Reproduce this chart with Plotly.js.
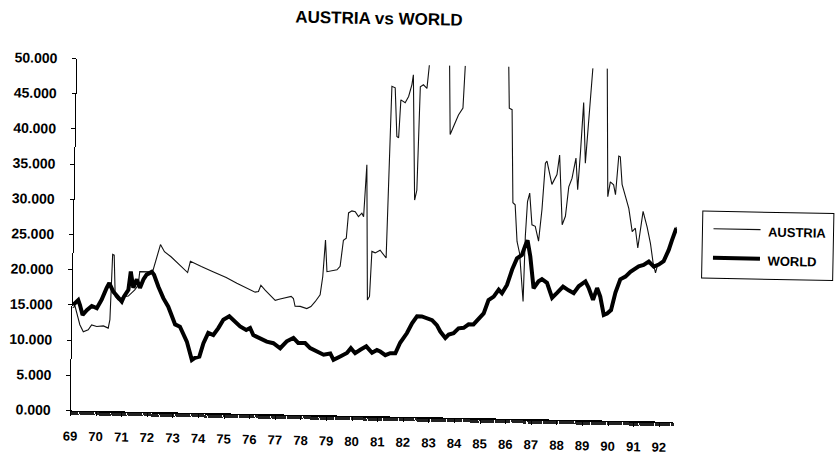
<!DOCTYPE html>
<html>
<head>
<meta charset="utf-8">
<script src="https://cdn.plot.ly/plotly-3.0.1.min.js"></script>
<style>
  html, body { margin: 0; padding: 0; background: #ffffff; overflow: hidden; }
  #chart { width: 836px; height: 461px; transform: rotate(1.08deg); transform-origin: 418px 230.5px; }
</style>
</head>
<body>
<div id="chart"></div>
<script>
// ---- data ----
const worldYears = [1969.02,1969.22,1969.29,1969.40,1969.56,1969.75,1969.95,1970.13,1970.32,1970.42,1970.58,1970.78,1970.92,1971.00,1971.17,1971.25,1971.36,1971.49,1971.62,1971.75,1971.87,1972.07,1972.16,1972.34,1972.54,1972.74,1972.88,1973.02,1973.21,1973.35,1973.49,1973.70,1973.82,1973.99,1974.14,1974.32,1974.52,1974.71,1974.90,1975.13,1975.36,1975.56,1975.80,1975.95,1976.08,1976.35,1976.61,1976.87,1977.14,1977.39,1977.65,1977.84,1978.11,1978.31,1978.57,1978.84,1979.10,1979.23,1979.49,1979.75,1979.90,1980.07,1980.27,1980.50,1980.73,1980.92,1981.05,1981.25,1981.44,1981.64,1981.82,1982.08,1982.27,1982.46,1982.65,1982.85,1983.05,1983.24,1983.38,1983.58,1983.71,1983.90,1984.09,1984.29,1984.48,1984.67,1984.87,1985.06,1985.24,1985.44,1985.63,1985.76,1985.95,1986.14,1986.32,1986.51,1986.64,1986.72,1986.84,1986.99,1987.18,1987.31,1987.51,1987.72,1987.91,1988.14,1988.36,1988.56,1988.75,1989.01,1989.14,1989.32,1989.47,1989.60,1989.75,1989.88,1990.03,1990.19,1990.37,1990.57,1990.76,1990.89,1991.08,1991.27,1991.47,1991.67,1991.86,1992.05,1992.24,1992.36,1992.52];
const worldValues = [15.0,15.7,15.0,13.6,14.3,14.9,14.6,15.8,17.5,18.2,17.0,16.1,15.6,16.3,17.3,19.9,17.6,18.8,17.6,18.8,19.5,19.9,19.5,17.8,16.2,15.0,13.9,12.5,12.2,11.0,10.1,7.5,7.8,8.0,9.9,11.4,11.1,12.1,13.3,13.8,13.0,12.4,11.9,12.2,11.2,10.8,10.3,10.1,9.4,10.4,10.9,10.2,10.2,9.5,9.0,8.6,8.8,7.9,8.4,8.9,9.6,8.9,9.4,9.9,9.0,9.4,9.2,8.7,9.0,9.0,10.5,11.9,13.3,14.3,14.3,14.0,13.8,13.1,12.2,11.3,11.8,12.0,12.7,12.8,13.3,13.3,14.2,14.9,16.8,17.3,18.3,17.8,19.0,21.2,22.8,23.3,24.7,25.4,23.1,18.6,19.6,19.9,19.4,17.3,18.0,18.9,18.4,18.0,19.0,19.7,18.8,17.1,18.8,17.6,15.0,15.2,15.7,18.2,20.1,20.5,21.2,21.5,22.0,22.2,22.7,22.0,22.3,22.8,24.4,25.8,27.5];

// null = the series runs above the top of the scale
const austriaYears = [1969.00,1969.10,1969.30,1969.44,1969.63,1969.76,1969.96,1970.22,1970.41,1970.47,1970.53,1970.59,1970.66,1970.78,1970.98,1971.17,1971.42,1971.55,1971.60,1972.10,1972.39,1972.55,1972.81,1973.08,1973.47,1973.57,1973.86,1974.00,1974.46,1974.98,1975.40,1975.79,1976.12,1976.25,1976.34,1976.51,1976.71,1976.91,1977.10,1977.36,1977.53,1977.62,1977.69,1977.89,1978.15,1978.31,1978.47,1978.66,1978.75,1978.83,1978.91,1979.30,1979.42,1979.53,1979.64,1979.71,1979.84,1979.97,1980.10,1980.23,1980.30,1980.39,1980.51,1980.59,1980.65,1980.78,1980.97,1981.21,1981.31,1981.44,1981.54,1981.61,1981.67,1981.84,1981.97,1982.09,1982.14,1982.28,1982.36,1982.42,1982.54,1982.68,1982.76,1982.78,1983.10,1983.54,1983.62,1983.75,1983.93,1984.10,1984.17,1985.00,1985.85,1985.91,1986.02,1986.12,1986.21,1986.31,1986.42,1986.59,1986.63,1986.69,1986.77,1986.88,1987.01,1987.15,1987.26,1987.36,1987.42,1987.63,1987.82,1987.91,1988.06,1988.18,1988.29,1988.41,1988.55,1988.64,1988.72,1988.81,1988.92,1989.02,1989.16,1989.40,1989.70,1989.82,1989.91,1990.04,1990.12,1990.22,1990.28,1990.37,1990.51,1990.65,1990.80,1990.92,1991.03,1991.12,1991.21,1991.38,1991.52,1991.64,1991.74,1991.82,1991.86,1992.05,1992.24,1992.36,1992.52];
const austriaValues = [14.6,14.8,12.2,11.2,11.5,12.2,12.0,12.1,11.8,13.0,22.3,22.2,16.3,15.8,16.3,16.4,17.3,18.0,19.9,19.9,23.8,22.8,22.1,21.2,19.9,21.5,21.0,20.8,20.1,19.3,18.5,17.9,17.3,17.4,18.3,17.6,16.9,16.2,16.4,16.7,16.8,16.5,15.4,15.4,15.1,15.4,16.1,17.1,19.7,24.9,20.4,20.7,21.2,24.9,25.2,28.8,29.1,29.0,28.3,28.8,28.3,35.7,16.5,17.0,23.4,23.2,23.6,22.5,46.9,46.7,39.8,39.6,45.0,44.6,45.5,47.2,48.6,30.8,32.2,46.9,47.2,46.7,49.5,51.0,null,51.0,40.2,41.4,43.0,44.0,51.0,null,51.0,44.1,43.9,30.7,30.4,25.2,23.5,16.7,26.0,30.9,32.1,27.6,27.4,25.3,29.8,36.4,36.7,33.4,34.8,37.6,27.7,28.9,33.1,34.3,37.2,32.7,37.9,45.1,36.5,42.2,51.0,null,51.0,31.8,33.9,33.5,32.1,37.6,37.5,33.6,31.9,30.2,26.9,27.4,24.6,27.6,29.8,27.6,25.3,22.5,21.1,22.3,22.3,22.8,24.4,25.8,27.7];

const seriesNames = ['AUSTRIA', 'WORLD'];
const yearTicks = [1969,1970,1971,1972,1973,1974,1975,1976,1977,1978,1979,1980,1981,1982,1983,1984,1985,1986,1987,1988,1989,1990,1991,1992];
const yearLabels = ['69','70','71','72','73','74','75','76','77','78','79','80','81','82','83','84','85','86','87','88','89','90','91','92'];
const valueTicks = [0,5,10,15,20,25,30,35,40,45,50];
const valueLabels = ['0.000','5.000','10.000','15.000','20.000','25.000','30.000','35.000','40.000','45.000','50.000'];

// ---- layout helpers (pixel -> paper) ----
const M = {l: 74, r: 159.4, t: 65.4, b: 43.8};
const PW = 836 - M.l - M.r, PH = 461 - M.t - M.b;
const px2x = p => (p - M.l) / PW;
const px2y = p => (M.t + PH - p) / PH;
const FONT = 'Liberation Sans, Arial, Helvetica, sans-serif';

const traces = [
  {x: austriaYears, y: austriaValues, name: seriesNames[0], type: 'scatter', mode: 'lines',
   connectgaps: false, line: {color: '#111111', width: 1.1}},
  {x: worldYears, y: worldValues, name: seriesNames[1], type: 'scatter', mode: 'lines',
   line: {color: '#000000', width: 4}}
];

const layout = {
  width: 836, height: 461,
  margin: M,
  paper_bgcolor: '#ffffff', plot_bgcolor: '#ffffff',
  showlegend: false,
  font: {family: FONT, color: '#000000'},
  title: {text: 'AUSTRIA vs WORLD', x: 375/836, xref: 'container', xanchor: 'center',
          y: 1 - 19/461, yref: 'container', yanchor: 'middle',
          font: {family: FONT, size: 17, color: '#000000', weight: 'bold'}},
  xaxis: {
    range: [1969, 1992.55], showgrid: false, zeroline: false,
    showline: true, linecolor: '#000', linewidth: 1.5,
    tickmode: 'array', tickvals: yearTicks, ticktext: yearLabels,
    ticks: 'outside', ticklen: 4, tickcolor: '#000', tickwidth: 1,
    ticklabelstandoff: 9,
    minor: {tick0: 1969, dtick: 1/24, ticks: 'outside', ticklen: 3, tickcolor: '#222', tickwidth: 1, showgrid: false},
    tickfont: {family: FONT, size: 13, color: '#000', weight: 'bold'}
  },
  yaxis: {
    range: [0, 50], showgrid: false, zeroline: false,
    showline: true, linecolor: '#000', linewidth: 1,
    tickmode: 'array', tickvals: valueTicks, ticktext: valueLabels,
    ticks: 'outside', ticklen: 4, tickcolor: '#000', tickwidth: 1,
    ticklabelstandoff: 12,
    tickfont: {family: FONT, size: 14, color: '#000', weight: 'bold'}
  },
  yaxis2: {
    overlaying: 'y', anchor: 'x', side: 'left',
    range: [0, 50], showgrid: false, zeroline: false, showline: false,
    tickmode: 'array', tickvals: valueTicks,
    ticks: 'inside', ticklen: 4, tickcolor: '#000', tickwidth: 1,
    showticklabels: false
  },
  shapes: [
    {type: 'rect', xref: 'paper', yref: 'paper', x0: px2x(702), x1: px2x(833), y0: px2y(273), y1: px2y(206),
     line: {color: '#000', width: 1}, fillcolor: 'rgba(0,0,0,0)'},
    {type: 'line', xref: 'paper', yref: 'paper', x0: px2x(713), x1: px2x(760), y0: px2y(223.5), y1: px2y(223.5),
     line: {color: '#111', width: 1.1}},
    {type: 'line', xref: 'paper', yref: 'paper', x0: px2x(713), x1: px2x(760), y0: px2y(252.5), y1: px2y(252.5),
     line: {color: '#000', width: 4}}
  ],
  annotations: [
    {text: seriesNames[0], xref: 'paper', yref: 'paper', x: px2x(766), y: px2y(225.5), xanchor: 'left', yanchor: 'middle',
     showarrow: false, font: {family: FONT, size: 13, color: '#000', weight: 'bold'}},
    {text: seriesNames[1], xref: 'paper', yref: 'paper', x: px2x(766), y: px2y(254.5), xanchor: 'left', yanchor: 'middle',
     showarrow: false, font: {family: FONT, size: 13, color: '#000', weight: 'bold'}}
  ]
};

Plotly.newPlot('chart', traces, layout, {displayModeBar: false, staticPlot: true});
</script>
</body>
</html>
